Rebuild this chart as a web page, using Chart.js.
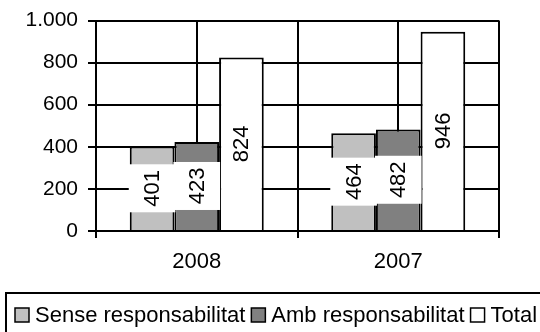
<!DOCTYPE html>
<html>
<head>
<meta charset="utf-8">
<script src="https://cdn.jsdelivr.net/npm/chart.js@4"></script>
<style>
html,body{margin:0;padding:0;background:#fff;}
#wrap{width:540px;height:332px;}
</style>
</head>
<body>
<div id="wrap"><canvas id="chart" width="540" height="332"></canvas></div>
<script>
const years = ["2008","2007"];
const senseResp = [401,464];
const ambResp = [423,482];
const total = [824,946];
const yTicks = [0,200,400,600,800,1000];
const seriesNames = ["Sense responsabilitat","Amb responsabilitat","Total"];
const seriesColors = ["#c0c0c0","#808080","#ffffff"];

const FONT = "'Liberation Sans', Arial, sans-serif";
Chart.defaults.font.family = FONT;
Chart.defaults.color = "#000";

// 1000 -> "1.000"
function fmt(v){
return String(v).replace(/\B(?=(\d{3})+$)/g,".");
}

/* vertical lines through the middle of each year group */
const midLines = {
id:"midLines",
beforeDatasetsDraw(chart){
const ctx = chart.ctx, xs = chart.scales.x, a = chart.chartArea;
ctx.save();
ctx.strokeStyle = "#000";
ctx.lineWidth = 2;
years.forEach((y,i)=>{
const x = Math.round(xs.getPixelForValue(i));
ctx.beginPath();
ctx.moveTo(x,a.top);
ctx.lineTo(x,a.bottom);
ctx.stroke();
});
ctx.restore();
}
};

/* rotated value labels in the middle of each bar */
const barLabels = {
id:"barLabels",
afterDatasetsDraw(chart){
const ctx = chart.ctx;
ctx.save();
ctx.font = "22px " + FONT;
ctx.textAlign = "center";
ctx.textBaseline = "middle";
chart.data.datasets.forEach((ds,di)=>{
const meta = chart.getDatasetMeta(di);
meta.data.forEach((bar,i)=>{
const p = bar.getProps(["x","y","base","width"],true);
const cy = (p.y + p.base)/2;
if(ds.backgroundColor !== "#ffffff"){
ctx.fillStyle = "#fff";
ctx.fillRect(p.x - p.width/2 - 1, cy - 24, p.width + 2, 48);
}
ctx.save();
ctx.translate(p.x, cy);
ctx.rotate(-Math.PI/2);
ctx.fillStyle = "#000";
ctx.fillText(String(ds.data[i]),0,1);
ctx.restore();
});
});
ctx.restore();
}
};

/* boxed legend along the bottom */
const boxLegend = {
id:"boxLegend",
afterDraw(chart){
const ctx = chart.ctx;
ctx.save();
ctx.strokeStyle = "#000";
ctx.lineWidth = 2;
ctx.strokeRect(6,293,560,60);
ctx.font = "22px " + FONT;
ctx.textBaseline = "middle";
let x = 15;
const cy = 315;
seriesNames.forEach((name,i)=>{
ctx.fillStyle = seriesColors[i];
ctx.fillRect(x,cy-7,14,14);
ctx.lineWidth = 1.5;
ctx.strokeRect(x,cy-7,14,14);
ctx.fillStyle = "#000";
ctx.fillText(name,x+20,cy+1);
x += 20 + ctx.measureText(name).width + 6;
});
ctx.restore();
}
};

new Chart(document.getElementById("chart"),{
type:"bar",
data:{
labels:years,
datasets:[
{label:seriesNames[0],data:senseResp,backgroundColor:seriesColors[0]},
{label:seriesNames[1],data:ambResp,backgroundColor:seriesColors[1]},
{label:seriesNames[2],data:total,backgroundColor:seriesColors[2]}
].map(d=>Object.assign(d,{
borderColor:"#000",
borderWidth:2,
barPercentage:1,
categoryPercentage:0.665
}))
},
options:{
responsive:false,
animation:false,
layout:{padding:{top:20,right:41,bottom:41,left:0}},
plugins:{
legend:{display:false},
tooltip:{enabled:false}
},
scales:{
x:{
grid:{color:"#000",lineWidth:2,tickLength:7,offset:true},
border:{color:"#000",width:2},
ticks:{font:{size:22},padding:11,color:"#000"},
afterFit(s){ s.height = 60; }
},
y:{
min:0,
max:1000,
afterBuildTicks(s){ s.ticks = yTicks.map(v=>({value:v})); },
grid:{color:"#000",lineWidth:2,tickLength:8},
border:{color:"#000",width:2},
ticks:{font:{size:21,lineHeight:1},padding:10,color:"#000",callback:v=>fmt(v)},
afterFit(s){ s.width = 96; }
}
}
},
plugins:[midLines,barLabels,boxLegend]
});
</script>
</body>
</html>
